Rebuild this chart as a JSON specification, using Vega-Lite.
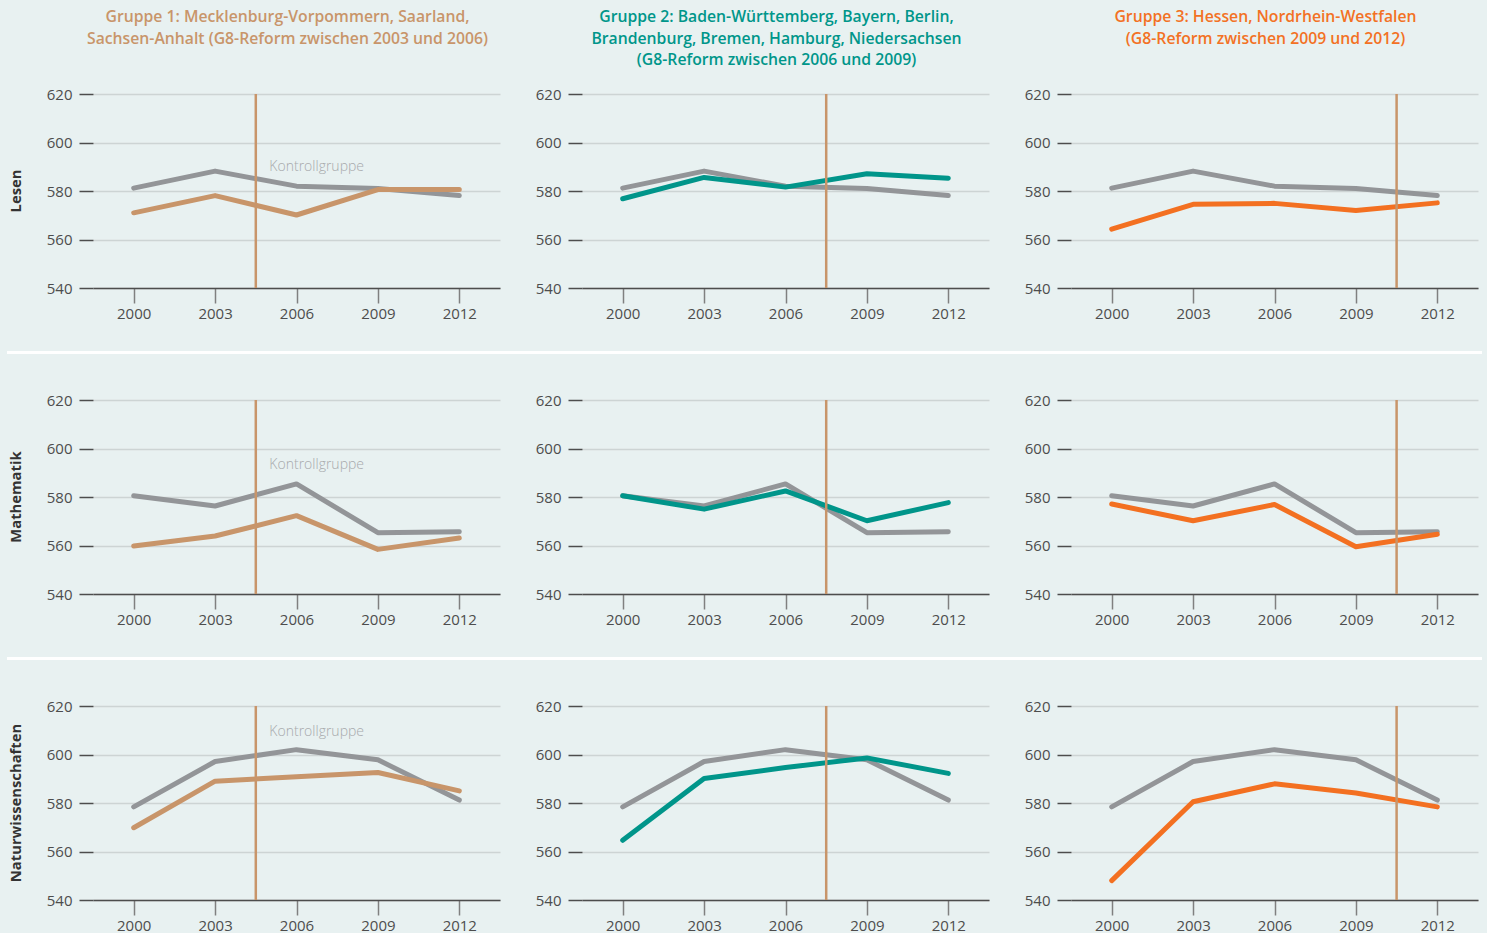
{
  "$schema": "https://vega.github.io/schema/vega-lite/v6.json",
  "background": "#e8f1f1",
  "padding": {"left": 7, "top": 9, "right": 5, "bottom": 0},
  "datasets": {
    "scores": [
      {"fach": "Lesen", "gruppe": "Kontrollgruppe", "jahr": 2000, "wert": 581.2},
      {"fach": "Lesen", "gruppe": "Kontrollgruppe", "jahr": 2003, "wert": 588.2},
      {"fach": "Lesen", "gruppe": "Kontrollgruppe", "jahr": 2006, "wert": 582.0},
      {"fach": "Lesen", "gruppe": "Kontrollgruppe", "jahr": 2009, "wert": 581.0},
      {"fach": "Lesen", "gruppe": "Kontrollgruppe", "jahr": 2012, "wert": 578.1},
      {"fach": "Lesen", "gruppe": "Gruppe 1", "jahr": 2000, "wert": 571.0},
      {"fach": "Lesen", "gruppe": "Gruppe 1", "jahr": 2003, "wert": 578.1},
      {"fach": "Lesen", "gruppe": "Gruppe 1", "jahr": 2006, "wert": 570.1},
      {"fach": "Lesen", "gruppe": "Gruppe 1", "jahr": 2009, "wert": 580.6},
      {"fach": "Lesen", "gruppe": "Gruppe 1", "jahr": 2012, "wert": 580.6},
      {"fach": "Lesen", "gruppe": "Gruppe 2", "jahr": 2000, "wert": 576.8},
      {"fach": "Lesen", "gruppe": "Gruppe 2", "jahr": 2003, "wert": 585.6},
      {"fach": "Lesen", "gruppe": "Gruppe 2", "jahr": 2006, "wert": 581.6},
      {"fach": "Lesen", "gruppe": "Gruppe 2", "jahr": 2009, "wert": 587.1},
      {"fach": "Lesen", "gruppe": "Gruppe 2", "jahr": 2012, "wert": 585.3},
      {"fach": "Lesen", "gruppe": "Gruppe 3", "jahr": 2000, "wert": 564.3},
      {"fach": "Lesen", "gruppe": "Gruppe 3", "jahr": 2003, "wert": 574.5},
      {"fach": "Lesen", "gruppe": "Gruppe 3", "jahr": 2006, "wert": 574.9},
      {"fach": "Lesen", "gruppe": "Gruppe 3", "jahr": 2009, "wert": 572.0},
      {"fach": "Lesen", "gruppe": "Gruppe 3", "jahr": 2012, "wert": 575.1},
      {"fach": "Mathematik", "gruppe": "Kontrollgruppe", "jahr": 2000, "wert": 580.5},
      {"fach": "Mathematik", "gruppe": "Kontrollgruppe", "jahr": 2003, "wert": 576.3},
      {"fach": "Mathematik", "gruppe": "Kontrollgruppe", "jahr": 2006, "wert": 585.4},
      {"fach": "Mathematik", "gruppe": "Kontrollgruppe", "jahr": 2009, "wert": 565.3},
      {"fach": "Mathematik", "gruppe": "Kontrollgruppe", "jahr": 2012, "wert": 565.7},
      {"fach": "Mathematik", "gruppe": "Gruppe 1", "jahr": 2000, "wert": 559.8},
      {"fach": "Mathematik", "gruppe": "Gruppe 1", "jahr": 2003, "wert": 563.9},
      {"fach": "Mathematik", "gruppe": "Gruppe 1", "jahr": 2006, "wert": 572.3},
      {"fach": "Mathematik", "gruppe": "Gruppe 1", "jahr": 2009, "wert": 558.4},
      {"fach": "Mathematik", "gruppe": "Gruppe 1", "jahr": 2012, "wert": 563.1},
      {"fach": "Mathematik", "gruppe": "Gruppe 2", "jahr": 2000, "wert": 580.5},
      {"fach": "Mathematik", "gruppe": "Gruppe 2", "jahr": 2003, "wert": 575.0},
      {"fach": "Mathematik", "gruppe": "Gruppe 2", "jahr": 2006, "wert": 582.5},
      {"fach": "Mathematik", "gruppe": "Gruppe 2", "jahr": 2009, "wert": 570.2},
      {"fach": "Mathematik", "gruppe": "Gruppe 2", "jahr": 2012, "wert": 577.7},
      {"fach": "Mathematik", "gruppe": "Gruppe 3", "jahr": 2000, "wert": 577.1},
      {"fach": "Mathematik", "gruppe": "Gruppe 3", "jahr": 2003, "wert": 570.2},
      {"fach": "Mathematik", "gruppe": "Gruppe 3", "jahr": 2006, "wert": 576.9},
      {"fach": "Mathematik", "gruppe": "Gruppe 3", "jahr": 2009, "wert": 559.5},
      {"fach": "Mathematik", "gruppe": "Gruppe 3", "jahr": 2012, "wert": 564.6},
      {"fach": "Naturwissenschaften", "gruppe": "Kontrollgruppe", "jahr": 2000, "wert": 578.4},
      {"fach": "Naturwissenschaften", "gruppe": "Kontrollgruppe", "jahr": 2003, "wert": 597.1},
      {"fach": "Naturwissenschaften", "gruppe": "Kontrollgruppe", "jahr": 2006, "wert": 602.0},
      {"fach": "Naturwissenschaften", "gruppe": "Kontrollgruppe", "jahr": 2009, "wert": 597.8},
      {"fach": "Naturwissenschaften", "gruppe": "Kontrollgruppe", "jahr": 2012, "wert": 581.2},
      {"fach": "Naturwissenschaften", "gruppe": "Gruppe 1", "jahr": 2000, "wert": 569.8},
      {"fach": "Naturwissenschaften", "gruppe": "Gruppe 1", "jahr": 2003, "wert": 589.0},
      {"fach": "Naturwissenschaften", "gruppe": "Gruppe 1", "jahr": 2006, "wert": 590.8},
      {"fach": "Naturwissenschaften", "gruppe": "Gruppe 1", "jahr": 2009, "wert": 592.6},
      {"fach": "Naturwissenschaften", "gruppe": "Gruppe 1", "jahr": 2012, "wert": 585.0},
      {"fach": "Naturwissenschaften", "gruppe": "Gruppe 2", "jahr": 2000, "wert": 564.6},
      {"fach": "Naturwissenschaften", "gruppe": "Gruppe 2", "jahr": 2003, "wert": 590.1},
      {"fach": "Naturwissenschaften", "gruppe": "Gruppe 2", "jahr": 2006, "wert": 594.6},
      {"fach": "Naturwissenschaften", "gruppe": "Gruppe 2", "jahr": 2009, "wert": 598.6},
      {"fach": "Naturwissenschaften", "gruppe": "Gruppe 2", "jahr": 2012, "wert": 592.2},
      {"fach": "Naturwissenschaften", "gruppe": "Gruppe 3", "jahr": 2000, "wert": 548.0},
      {"fach": "Naturwissenschaften", "gruppe": "Gruppe 3", "jahr": 2003, "wert": 580.5},
      {"fach": "Naturwissenschaften", "gruppe": "Gruppe 3", "jahr": 2006, "wert": 587.9},
      {"fach": "Naturwissenschaften", "gruppe": "Gruppe 3", "jahr": 2009, "wert": 584.1},
      {"fach": "Naturwissenschaften", "gruppe": "Gruppe 3", "jahr": 2012, "wert": 578.4}
    ],
    "reform": [
      {"gruppe": "Gruppe 1", "jahr": 2004.5},
      {"gruppe": "Gruppe 2", "jahr": 2007.5},
      {"gruppe": "Gruppe 3", "jahr": 2010.5}
    ],
    "annot": [
      {"fach": "Lesen", "jahr": 2005, "wert": 590.1, "label": "Kontrollgruppe"},
      {"fach": "Mathematik", "jahr": 2005, "wert": 593.0, "label": "Kontrollgruppe"},
      {"fach": "Naturwissenschaften", "jahr": 2005, "wert": 609.3, "label": "Kontrollgruppe"}
    ],
    "faecher": [
      {"fach": "Lesen"},
      {"fach": "Mathematik"},
      {"fach": "Naturwissenschaften"}
    ]
  },
  "data": {"name": "scores"},
  "config": {
    "view": {"stroke": null},
    "font": "Open Sans",
    "axisX": {"grid": false, "domainColor": "#4d4d4d", "domainWidth": 1.5, "tickColor": "#808080", "tickSize": 15, "tickWidth": 1.5, "labelFontSize": 15, "labelColor": "#4d4d4d", "labelPadding": 3, "labelFont": "Open Sans", "labelFlush": false},
    "axisY": {"grid": true, "gridColor": "#cdd4d4", "gridWidth": 1.5, "domain": false, "tickColor": "#4d4d4d", "tickSize": 14, "tickWidth": 1.5, "labelFontSize": 15, "labelColor": "#4d4d4d", "labelPadding": 7, "labelFont": "Open Sans"},
    "title": {"font": "Open Sans", "fontSize": 15.75, "fontWeight": 600, "lineHeight": 21.5, "anchor": "middle", "frame": "group", "dx": -9, "offset": 18}
  },
  "concat": [
    {
      "hconcat": [
        {"width": 20, "height": 194, "data": {"name": "faecher"}, "transform": [{"filter": "datum.fach == 'Lesen'"}], "mark": {"type": "text", "angle": 270, "font": "Open Sans", "fontSize": 14.8, "fontWeight": "bold", "color": "#333333", "align": "center", "baseline": "middle"}, "encoding": {"text": {"field": "fach"}}},
        {
          "hconcat": [
            {
              "width": 407, "height": 194,
              "title": {"text": ["Gruppe 1: Mecklenburg-Vorpommern, Saarland,", "Sachsen-Anhalt (G8-Reform zwischen 2003 und 2006)", " "], "color": "#c8956a"},
              "encoding": {
                "x": {"field": "jahr", "type": "quantitative", "scale": {"domain": [1998.5, 2013.5], "nice": false, "zero": false}, "axis": {"values": [2000, 2003, 2006, 2009, 2012], "format": "d", "title": null}}
              },
              "layer": [
                {"transform": [{"filter": "datum.fach == 'Lesen' && datum.gruppe == 'Kontrollgruppe'"}], "mark": {"type": "line", "strokeWidth": 5, "strokeCap": "round", "strokeJoin": "round"}, "encoding": {"y": {"field": "wert", "type": "quantitative", "scale": {"domain": [540, 620], "nice": false, "zero": false}, "axis": {"values": [540, 560, 580, 600, 620], "title": null}}, "color": {"field": "gruppe", "type": "nominal", "scale": {"domain": ["Kontrollgruppe", "Gruppe 1", "Gruppe 2", "Gruppe 3"], "range": ["#939598", "#c8956a", "#00958a", "#f37021"]}, "legend": null}}},
                {"transform": [{"filter": "datum.fach == 'Lesen' && datum.gruppe == 'Gruppe 1'"}], "mark": {"type": "line", "strokeWidth": 5, "strokeCap": "round", "strokeJoin": "round"}, "encoding": {"y": {"field": "wert", "type": "quantitative"}, "color": {"field": "gruppe", "type": "nominal", "legend": null}}},
                {"data": {"name": "annot"}, "transform": [{"filter": "datum.fach == 'Lesen'"}], "mark": {"type": "text", "align": "left", "baseline": "middle", "font": "Open Sans", "fontSize": 14, "fontWeight": 300, "color": "#a7a9ac"}, "encoding": {"y": {"field": "wert", "type": "quantitative"}, "text": {"field": "label"}}},
                {"data": {"name": "reform"}, "transform": [{"filter": "datum.gruppe == 'Gruppe 1'"}], "mark": {"type": "rule", "color": "#c8956a", "strokeWidth": 2.5}}
              ]
            },
            {
              "width": 407, "height": 194,
              "title": {"text": ["Gruppe 2: Baden-Württemberg, Bayern, Berlin,", "Brandenburg, Bremen, Hamburg, Niedersachsen", "(G8-Reform zwischen 2006 und 2009)"], "color": "#00968a"},
              "encoding": {
                "x": {"field": "jahr", "type": "quantitative", "scale": {"domain": [1998.5, 2013.5], "nice": false, "zero": false}, "axis": {"values": [2000, 2003, 2006, 2009, 2012], "format": "d", "title": null}}
              },
              "layer": [
                {"transform": [{"filter": "datum.fach == 'Lesen' && datum.gruppe == 'Kontrollgruppe'"}], "mark": {"type": "line", "strokeWidth": 5, "strokeCap": "round", "strokeJoin": "round"}, "encoding": {"y": {"field": "wert", "type": "quantitative", "scale": {"domain": [540, 620], "nice": false, "zero": false}, "axis": {"values": [540, 560, 580, 600, 620], "title": null}}, "color": {"field": "gruppe", "type": "nominal", "legend": null}}},
                {"transform": [{"filter": "datum.fach == 'Lesen' && datum.gruppe == 'Gruppe 2'"}], "mark": {"type": "line", "strokeWidth": 5, "strokeCap": "round", "strokeJoin": "round"}, "encoding": {"y": {"field": "wert", "type": "quantitative"}, "color": {"field": "gruppe", "type": "nominal", "legend": null}}},
                {"data": {"name": "reform"}, "transform": [{"filter": "datum.gruppe == 'Gruppe 2'"}], "mark": {"type": "rule", "color": "#c8956a", "strokeWidth": 2.5}}
              ]
            },
            {
              "width": 407, "height": 194,
              "title": {"text": ["Gruppe 3: Hessen, Nordrhein-Westfalen", "(G8-Reform zwischen 2009 und 2012)", " "], "color": "#f37124"},
              "encoding": {
                "x": {"field": "jahr", "type": "quantitative", "scale": {"domain": [1998.5, 2013.5], "nice": false, "zero": false}, "axis": {"values": [2000, 2003, 2006, 2009, 2012], "format": "d", "title": null}}
              },
              "layer": [
                {"transform": [{"filter": "datum.fach == 'Lesen' && datum.gruppe == 'Kontrollgruppe'"}], "mark": {"type": "line", "strokeWidth": 5, "strokeCap": "round", "strokeJoin": "round"}, "encoding": {"y": {"field": "wert", "type": "quantitative", "scale": {"domain": [540, 620], "nice": false, "zero": false}, "axis": {"values": [540, 560, 580, 600, 620], "title": null}}, "color": {"field": "gruppe", "type": "nominal", "legend": null}}},
                {"transform": [{"filter": "datum.fach == 'Lesen' && datum.gruppe == 'Gruppe 3'"}], "mark": {"type": "line", "strokeWidth": 5, "strokeCap": "round", "strokeJoin": "round"}, "encoding": {"y": {"field": "wert", "type": "quantitative"}, "color": {"field": "gruppe", "type": "nominal", "legend": null}}},
                {"data": {"name": "reform"}, "transform": [{"filter": "datum.gruppe == 'Gruppe 3'"}], "mark": {"type": "rule", "color": "#c8956a", "strokeWidth": 2.5}}
              ]
            }
          ],
          "spacing": 82,
          "bounds": "flush"
        }
      ],
      "spacing": 66,
      "bounds": "flush"
    },
    {
      "concat": [
        {"width": 1475, "height": 3, "view": {"fill": "#ffffff", "stroke": null}, "data": {"values": []}, "mark": "rect", "encoding": {}},
        {
          "hconcat": [
            {"width": 20, "height": 194, "data": {"name": "faecher"}, "transform": [{"filter": "datum.fach == 'Mathematik'"}], "mark": {"type": "text", "angle": 270, "font": "Open Sans", "fontSize": 14.8, "fontWeight": "bold", "color": "#333333", "align": "center", "baseline": "middle"}, "encoding": {"text": {"field": "fach"}}},
            {
              "hconcat": [
                {
                  "width": 407, "height": 194,
                  "encoding": {
                    "x": {"field": "jahr", "type": "quantitative", "scale": {"domain": [1998.5, 2013.5], "nice": false, "zero": false}, "axis": {"values": [2000, 2003, 2006, 2009, 2012], "format": "d", "title": null}}
                  },
                  "layer": [
                    {"transform": [{"filter": "datum.fach == 'Mathematik' && datum.gruppe == 'Kontrollgruppe'"}], "mark": {"type": "line", "strokeWidth": 5, "strokeCap": "round", "strokeJoin": "round"}, "encoding": {"y": {"field": "wert", "type": "quantitative", "scale": {"domain": [540, 620], "nice": false, "zero": false}, "axis": {"values": [540, 560, 580, 600, 620], "title": null}}, "color": {"field": "gruppe", "type": "nominal", "legend": null}}},
                    {"transform": [{"filter": "datum.fach == 'Mathematik' && datum.gruppe == 'Gruppe 1'"}], "mark": {"type": "line", "strokeWidth": 5, "strokeCap": "round", "strokeJoin": "round"}, "encoding": {"y": {"field": "wert", "type": "quantitative"}, "color": {"field": "gruppe", "type": "nominal", "legend": null}}},
                    {"data": {"name": "annot"}, "transform": [{"filter": "datum.fach == 'Mathematik'"}], "mark": {"type": "text", "align": "left", "baseline": "middle", "font": "Open Sans", "fontSize": 14, "fontWeight": 300, "color": "#a7a9ac"}, "encoding": {"y": {"field": "wert", "type": "quantitative"}, "text": {"field": "label"}}},
                    {"data": {"name": "reform"}, "transform": [{"filter": "datum.gruppe == 'Gruppe 1'"}], "mark": {"type": "rule", "color": "#c8956a", "strokeWidth": 2.5}}
                  ]
                },
                {
                  "width": 407, "height": 194,
                  "encoding": {
                    "x": {"field": "jahr", "type": "quantitative", "scale": {"domain": [1998.5, 2013.5], "nice": false, "zero": false}, "axis": {"values": [2000, 2003, 2006, 2009, 2012], "format": "d", "title": null}}
                  },
                  "layer": [
                    {"transform": [{"filter": "datum.fach == 'Mathematik' && datum.gruppe == 'Kontrollgruppe'"}], "mark": {"type": "line", "strokeWidth": 5, "strokeCap": "round", "strokeJoin": "round"}, "encoding": {"y": {"field": "wert", "type": "quantitative", "scale": {"domain": [540, 620], "nice": false, "zero": false}, "axis": {"values": [540, 560, 580, 600, 620], "title": null}}, "color": {"field": "gruppe", "type": "nominal", "legend": null}}},
                    {"transform": [{"filter": "datum.fach == 'Mathematik' && datum.gruppe == 'Gruppe 2'"}], "mark": {"type": "line", "strokeWidth": 5, "strokeCap": "round", "strokeJoin": "round"}, "encoding": {"y": {"field": "wert", "type": "quantitative"}, "color": {"field": "gruppe", "type": "nominal", "legend": null}}},
                    {"data": {"name": "reform"}, "transform": [{"filter": "datum.gruppe == 'Gruppe 2'"}], "mark": {"type": "rule", "color": "#c8956a", "strokeWidth": 2.5}}
                  ]
                },
                {
                  "width": 407, "height": 194,
                  "encoding": {
                    "x": {"field": "jahr", "type": "quantitative", "scale": {"domain": [1998.5, 2013.5], "nice": false, "zero": false}, "axis": {"values": [2000, 2003, 2006, 2009, 2012], "format": "d", "title": null}}
                  },
                  "layer": [
                    {"transform": [{"filter": "datum.fach == 'Mathematik' && datum.gruppe == 'Kontrollgruppe'"}], "mark": {"type": "line", "strokeWidth": 5, "strokeCap": "round", "strokeJoin": "round"}, "encoding": {"y": {"field": "wert", "type": "quantitative", "scale": {"domain": [540, 620], "nice": false, "zero": false}, "axis": {"values": [540, 560, 580, 600, 620], "title": null}}, "color": {"field": "gruppe", "type": "nominal", "legend": null}}},
                    {"transform": [{"filter": "datum.fach == 'Mathematik' && datum.gruppe == 'Gruppe 3'"}], "mark": {"type": "line", "strokeWidth": 5, "strokeCap": "round", "strokeJoin": "round"}, "encoding": {"y": {"field": "wert", "type": "quantitative"}, "color": {"field": "gruppe", "type": "nominal", "legend": null}}},
                    {"data": {"name": "reform"}, "transform": [{"filter": "datum.gruppe == 'Gruppe 3'"}], "mark": {"type": "rule", "color": "#c8956a", "strokeWidth": 2.5}}
                  ]
                }
              ],
              "spacing": 82,
              "bounds": "flush"
            }
          ],
          "spacing": 66,
          "bounds": "flush"
        }
      ],
      "columns": 1,
      "spacing": 39
    },
    {
      "concat": [
        {"width": 1475, "height": 3, "view": {"fill": "#ffffff", "stroke": null}, "data": {"values": []}, "mark": "rect", "encoding": {}},
        {
          "hconcat": [
            {"width": 20, "height": 194, "data": {"name": "faecher"}, "transform": [{"filter": "datum.fach == 'Naturwissenschaften'"}], "mark": {"type": "text", "angle": 270, "font": "Open Sans", "fontSize": 14.8, "fontWeight": "bold", "color": "#333333", "align": "center", "baseline": "middle"}, "encoding": {"text": {"field": "fach"}}},
            {
              "hconcat": [
                {
                  "width": 407, "height": 194,
                  "encoding": {
                    "x": {"field": "jahr", "type": "quantitative", "scale": {"domain": [1998.5, 2013.5], "nice": false, "zero": false}, "axis": {"values": [2000, 2003, 2006, 2009, 2012], "format": "d", "title": null}}
                  },
                  "layer": [
                    {"transform": [{"filter": "datum.fach == 'Naturwissenschaften' && datum.gruppe == 'Kontrollgruppe'"}], "mark": {"type": "line", "strokeWidth": 5, "strokeCap": "round", "strokeJoin": "round"}, "encoding": {"y": {"field": "wert", "type": "quantitative", "scale": {"domain": [540, 620], "nice": false, "zero": false}, "axis": {"values": [540, 560, 580, 600, 620], "title": null}}, "color": {"field": "gruppe", "type": "nominal", "legend": null}}},
                    {"transform": [{"filter": "datum.fach == 'Naturwissenschaften' && datum.gruppe == 'Gruppe 1'"}], "mark": {"type": "line", "strokeWidth": 5, "strokeCap": "round", "strokeJoin": "round"}, "encoding": {"y": {"field": "wert", "type": "quantitative"}, "color": {"field": "gruppe", "type": "nominal", "legend": null}}},
                    {"data": {"name": "annot"}, "transform": [{"filter": "datum.fach == 'Naturwissenschaften'"}], "mark": {"type": "text", "align": "left", "baseline": "middle", "font": "Open Sans", "fontSize": 14, "fontWeight": 300, "color": "#a7a9ac"}, "encoding": {"y": {"field": "wert", "type": "quantitative"}, "text": {"field": "label"}}},
                    {"data": {"name": "reform"}, "transform": [{"filter": "datum.gruppe == 'Gruppe 1'"}], "mark": {"type": "rule", "color": "#c8956a", "strokeWidth": 2.5}}
                  ]
                },
                {
                  "width": 407, "height": 194,
                  "encoding": {
                    "x": {"field": "jahr", "type": "quantitative", "scale": {"domain": [1998.5, 2013.5], "nice": false, "zero": false}, "axis": {"values": [2000, 2003, 2006, 2009, 2012], "format": "d", "title": null}}
                  },
                  "layer": [
                    {"transform": [{"filter": "datum.fach == 'Naturwissenschaften' && datum.gruppe == 'Kontrollgruppe'"}], "mark": {"type": "line", "strokeWidth": 5, "strokeCap": "round", "strokeJoin": "round"}, "encoding": {"y": {"field": "wert", "type": "quantitative", "scale": {"domain": [540, 620], "nice": false, "zero": false}, "axis": {"values": [540, 560, 580, 600, 620], "title": null}}, "color": {"field": "gruppe", "type": "nominal", "legend": null}}},
                    {"transform": [{"filter": "datum.fach == 'Naturwissenschaften' && datum.gruppe == 'Gruppe 2'"}], "mark": {"type": "line", "strokeWidth": 5, "strokeCap": "round", "strokeJoin": "round"}, "encoding": {"y": {"field": "wert", "type": "quantitative"}, "color": {"field": "gruppe", "type": "nominal", "legend": null}}},
                    {"data": {"name": "reform"}, "transform": [{"filter": "datum.gruppe == 'Gruppe 2'"}], "mark": {"type": "rule", "color": "#c8956a", "strokeWidth": 2.5}}
                  ]
                },
                {
                  "width": 407, "height": 194,
                  "encoding": {
                    "x": {"field": "jahr", "type": "quantitative", "scale": {"domain": [1998.5, 2013.5], "nice": false, "zero": false}, "axis": {"values": [2000, 2003, 2006, 2009, 2012], "format": "d", "title": null}}
                  },
                  "layer": [
                    {"transform": [{"filter": "datum.fach == 'Naturwissenschaften' && datum.gruppe == 'Kontrollgruppe'"}], "mark": {"type": "line", "strokeWidth": 5, "strokeCap": "round", "strokeJoin": "round"}, "encoding": {"y": {"field": "wert", "type": "quantitative", "scale": {"domain": [540, 620], "nice": false, "zero": false}, "axis": {"values": [540, 560, 580, 600, 620], "title": null}}, "color": {"field": "gruppe", "type": "nominal", "legend": null}}},
                    {"transform": [{"filter": "datum.fach == 'Naturwissenschaften' && datum.gruppe == 'Gruppe 3'"}], "mark": {"type": "line", "strokeWidth": 5, "strokeCap": "round", "strokeJoin": "round"}, "encoding": {"y": {"field": "wert", "type": "quantitative"}, "color": {"field": "gruppe", "type": "nominal", "legend": null}}},
                    {"data": {"name": "reform"}, "transform": [{"filter": "datum.gruppe == 'Gruppe 3'"}], "mark": {"type": "rule", "color": "#c8956a", "strokeWidth": 2.5}}
                  ]
                }
              ],
              "spacing": 82,
              "bounds": "flush"
            }
          ],
          "spacing": 66,
          "bounds": "flush"
        }
      ],
      "columns": 1,
      "spacing": 39
    }
  ],
  "columns": 1,
  "spacing": 30
}
